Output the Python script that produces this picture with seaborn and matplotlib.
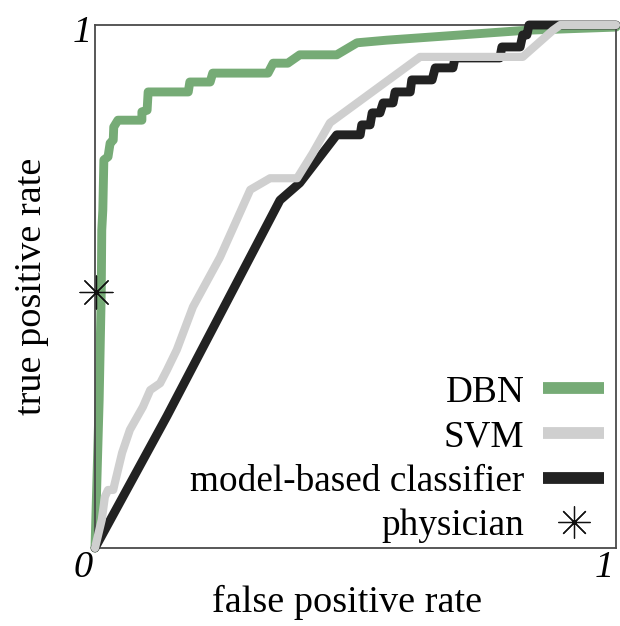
import numpy as np
import pandas as pd
import seaborn as sns
import matplotlib
matplotlib.use("Agg")
import matplotlib.pyplot as plt
from matplotlib.lines import Line2D
from matplotlib.transforms import ScaledTranslation

# ROC curves: (false positive rate, true positive rate)
dbn_fpr = [0.0, 0.008, 0.012, 0.013, 0.015, 0.017, 0.025, 0.029, 0.035, 0.036, 0.044,
           0.090, 0.090, 0.100, 0.102, 0.179, 0.182, 0.221, 0.226, 0.332, 0.342, 0.370,
           0.393, 0.464, 0.503, 0.560, 0.829, 1.0]
dbn_tpr = [0.0, 0.283, 0.489, 0.608, 0.646, 0.742, 0.748, 0.774, 0.780, 0.805, 0.818,
           0.818, 0.834, 0.837, 0.872, 0.872, 0.891, 0.891, 0.908, 0.908, 0.927, 0.927,
           0.943, 0.943, 0.966, 0.971, 0.990, 0.996]

svm_fpr = [0.0, 0.013, 0.019, 0.025, 0.035, 0.038, 0.052, 0.067, 0.092, 0.106, 0.125,
           0.138, 0.157, 0.188, 0.240, 0.298, 0.336, 0.388, 0.418, 0.451, 0.624, 0.821,
           0.879, 0.893, 1.0]
svm_tpr = [0.0, 0.054, 0.098, 0.111, 0.111, 0.124, 0.182, 0.226, 0.270, 0.302, 0.315,
           0.340, 0.379, 0.461, 0.556, 0.685, 0.707, 0.707, 0.755, 0.813, 0.939, 0.939,
           0.990, 1.0, 1.0]

mbc_fpr = [0.0, 0.138, 0.355, 0.393, 0.464, 0.509, 0.512, 0.528, 0.532, 0.547, 0.553,
           0.572, 0.576, 0.605, 0.608, 0.647, 0.653, 0.687, 0.691, 0.777, 0.781, 0.816,
           0.821, 0.829, 0.833, 1.0]
mbc_tpr = [0.0, 0.252, 0.665, 0.698, 0.790, 0.790, 0.809, 0.809, 0.832, 0.832, 0.851,
           0.851, 0.872, 0.872, 0.895, 0.895, 0.918, 0.918, 0.937, 0.937, 0.958, 0.958,
           0.981, 0.981, 1.0, 1.0]

physician_fpr = [0.002]
physician_tpr = [0.49]

labels = ["DBN", "SVM", "model-based classifier", "physician"]
colors = ["#76ab76", "#cfcfcf", "#222222", "#111111"]

sns.set_style("white")
plt.rcParams["font.family"] = ["Liberation Serif", "DejaVu Serif"]
plt.rcParams["text.color"] = "black"
plt.rcParams["axes.labelcolor"] = "black"
plt.rcParams["xtick.color"] = "black"
plt.rcParams["ytick.color"] = "black"

FS = 27.5
LEG_FS = 26.8

fig = plt.figure(figsize=(6.2, 6.26), dpi=100)
ax = fig.add_axes([95 / 620, 78 / 626, 521 / 620, 523 / 626])

lw = 6.4
sns.lineplot(x=dbn_fpr, y=dbn_tpr, sort=False, estimator=None, color=colors[0],
             linewidth=lw, ax=ax, zorder=2, clip_on=False)
sns.lineplot(x=mbc_fpr, y=mbc_tpr, sort=False, estimator=None, color=colors[2],
             linewidth=lw, ax=ax, zorder=3, clip_on=False)
sns.lineplot(x=svm_fpr, y=svm_tpr, sort=False, estimator=None, color=colors[1],
             linewidth=lw * 0.92, ax=ax, zorder=4, clip_on=False)
star = (8, 2, 0)
sns.scatterplot(x=physician_fpr, y=physician_tpr, marker=star, s=560, color=colors[3],
                linewidth=0.9, ax=ax, zorder=5, clip_on=False)

ax.set_xlim(0, 1)
ax.set_ylim(0, 1)

for s in ax.spines.values():
    s.set_visible(True)
    s.set_color("#4a4a4a")
    s.set_linewidth(1.3)

ax.set_xticks([0, 1])
ax.set_xticklabels(["0", "1"], fontsize=FS, style="italic")
ax.set_yticks([1])
ax.set_yticklabels(["1"], fontsize=FS, style="italic")
ax.tick_params(length=0, pad=2)
for lab in ax.get_xticklabels():
    lab.set_transform(lab.get_transform() + ScaledTranslation(-0.12, 0, fig.dpi_scale_trans))
for lab in ax.get_yticklabels():
    lab.set_transform(lab.get_transform() + ScaledTranslation(0, -0.04, fig.dpi_scale_trans))

ax.set_xlabel("false positive rate", fontsize=FS, labelpad=4)
ax.xaxis.set_label_coords(0.484, -0.07, transform=ax.transAxes)
ax.xaxis.label.set_va("top")
ax.set_ylabel("true positive rate", fontsize=FS, labelpad=17)

handles = [
    Line2D([], [], color=colors[0], linewidth=8.5, solid_capstyle="butt"),
    Line2D([], [], color=colors[1], linewidth=8.5, solid_capstyle="butt"),
    Line2D([], [], color=colors[2], linewidth=8.5, solid_capstyle="butt"),
    Line2D([], [], color=colors[3], linestyle="none", marker=star, markersize=23,
           markeredgewidth=0.9),
]
ax.legend(handles, labels, loc="lower right", frameon=False, markerfirst=False,
          fontsize=LEG_FS, handlelength=1.65, handletextpad=0.5, labelspacing=0.27,
          borderaxespad=0.0, borderpad=0.2, bbox_to_anchor=(0.992, -0.005))

fig.savefig("out.png", dpi=100)
